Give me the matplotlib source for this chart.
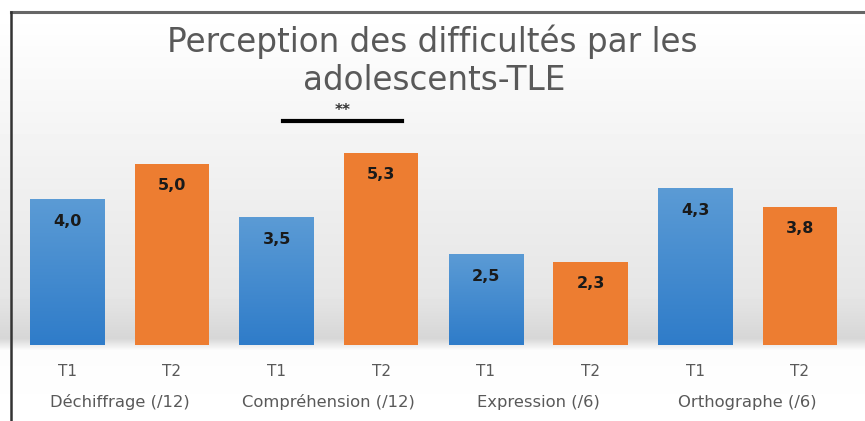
import numpy as np
import matplotlib.pyplot as plt
from matplotlib.colors import LinearSegmentedColormap

# donnees
groupes = ["Déchiffrage (/12)", "Compréhension (/12)", "Expression (/6)", "Orthographe (/6)"]
temps = ["T1", "T2"]
t1 = [4.0, 3.5, 2.5, 4.3]
t2 = [5.0, 5.3, 2.3, 3.8]
etiquettes = ["4,0", "5,0", "3,5", "5,3", "2,5", "2,3", "4,3", "3,8"]

bleu = "#4a90d6"
orange = "#ed7d31"
gris = "#595959"

W, H = 865, 421
fig = plt.figure(figsize=(W / 100, H / 100), dpi=100)

# fond degrade
bg = fig.add_axes([0, 0, 1, 1])
rows = np.ones((H, 1))
for r in range(H):
    if r < 12:
        v = 1.0
    elif r < 295:
        v = 1.0 - 0.10 * (r - 12) / 283
    elif r < 338:
        v = 0.90 - 0.06 * (r - 295) / 43
    elif r < 350:
        v = 0.84 + 0.15 * (r - 338) / 12
    else:
        v = 0.99 + 0.01 * (r - 350) / 71
    rows[r, 0] = v
bg.imshow(rows, cmap="gray", vmin=0, vmax=1, aspect="auto", extent=[0, W, H, 0])
bg.plot([10.5, W], [11.5, 11.5], color="#666666", lw=2.2)
bg.plot([10.5, 10.5], [11.5, H], color="#333333", lw=1.8)
bg.set_xlim(0, W)
bg.set_ylim(H, 0)
bg.axis("off")

# axe principal
left = 15 / W
right = 852 / W
bottom = (H - 345) / H
ymax = 7.0
ppu = 36.3
top_px = 345 - ymax * ppu
ax = fig.add_axes([left, bottom, right - left, (345 - top_px) / H])
ax.patch.set_alpha(0)

x = np.arange(8)
valeurs = []
couleurs = []
for a, b in zip(t1, t2):
    valeurs += [a, b]
    couleurs += [bleu, orange]

barres = ax.bar(x, valeurs, width=0.71, color=couleurs, zorder=3)

# degrade sur les barres bleues
grad = np.linspace(0, 1, 100).reshape(-1, 1)
cm_bleu = LinearSegmentedColormap.from_list("b", ["#2f7cc9", "#5b9bd5"])
for i, bar in enumerate(barres):
    if couleurs[i] == bleu:
        bx, bw, bh = bar.get_x(), bar.get_width(), bar.get_height()
        ax.imshow(grad, cmap=cm_bleu, aspect="auto", origin="lower",
                  extent=[bx, bx + bw, 0, bh], zorder=4)

for bar, lab in zip(barres, etiquettes):
    ax.text(bar.get_x() + bar.get_width() / 2, bar.get_height() - 0.6, lab,
            ha="center", va="center", fontsize=11.5, fontweight="bold",
            color="#1a1a1a", zorder=5)

ax.set_xlim(-0.5, 7.5)
ax.set_ylim(0, ymax)
ax.set_xticks(x)
ax.set_xticklabels(temps * 4, fontsize=11, color=gris)
ax.tick_params(axis="x", length=0, pad=14)
ax.set_yticks([])
for s in ax.spines.values():
    s.set_visible(False)

for i, g in enumerate(groupes):
    ax.text(2 * i + 0.5, -1.58, g, ha="center", va="center", fontsize=11.8,
            color=gris)

# significativite
ax.plot([2.06, 3.2], [6.17, 6.17], color="black", lw=3, clip_on=False, zorder=5)
ax.text(2.63, 6.45, "**", ha="center", va="center", fontsize=11,
        fontweight="bold", color="#333333")

fig.text(432 / W, 1 - 42 / H, "Perception des difficultés par les", ha="center",
         va="center", fontsize=23.5, color=gris)
fig.text(434 / W, 1 - 80 / H, "adolescents-TLE", ha="center", va="center",
         fontsize=23.5, color=gris)

fig.savefig("out.png", dpi=100)
